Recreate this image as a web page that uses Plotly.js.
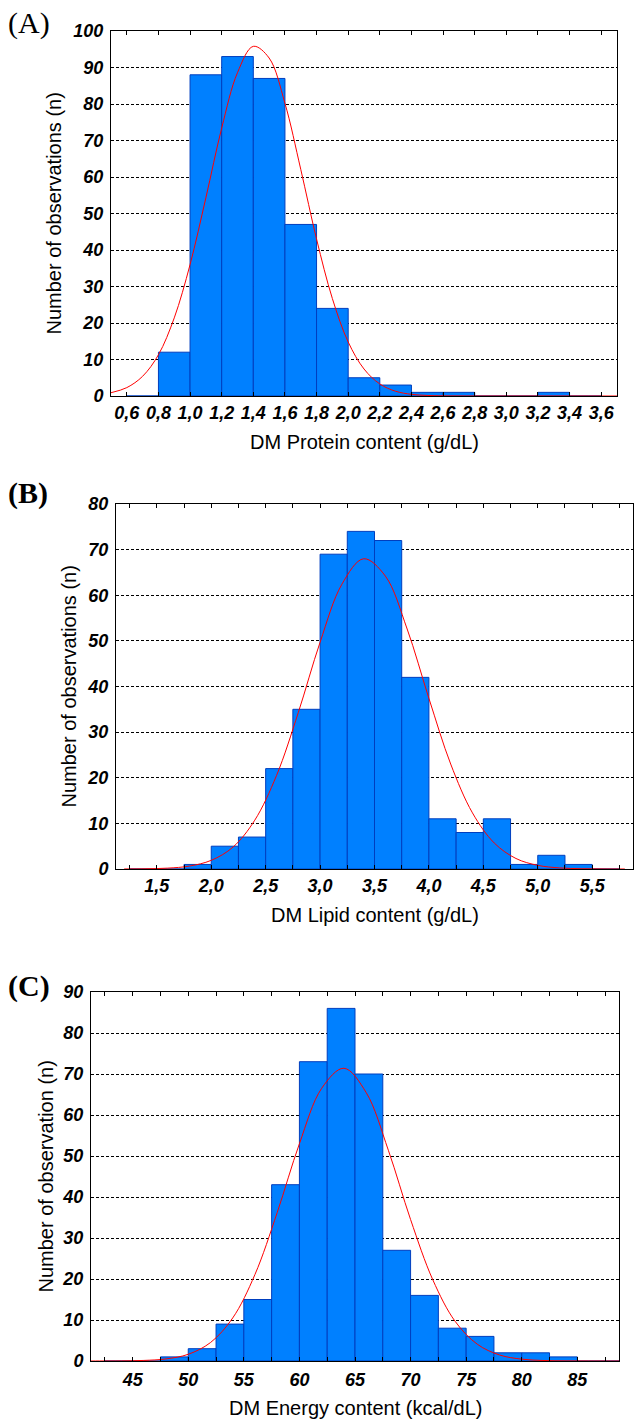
<!DOCTYPE html>
<html>
<head>
<meta charset="utf-8">
<script src="https://cdn.plot.ly/plotly-3.0.1.min.js"></script>
<style>html,body{margin:0;padding:0;background:#fff;}#chart{width:634px;height:1419px;}</style>
</head>
<body>
<div id="chart"></div>
<script>
// ---------- DATA ----------
// Panel A: DM Protein content (g/dL), bins of 0.2
const binStartA = [0.6, 0.8, 1.0, 1.2, 1.4, 1.6, 1.8, 2.0, 2.2, 2.4, 2.6, 2.8, 3.0, 3.2, 3.4];
const countsA   = [0, 12, 88, 93, 87, 47, 24, 5, 3, 1, 1, 0, 0, 1, 0];
const binWidthA = 0.2;
const tickValsA = [0.6, 0.8, 1.0, 1.2, 1.4, 1.6, 1.8, 2.0, 2.2, 2.4, 2.6, 2.8, 3.0, 3.2, 3.4, 3.6];
const tickTextA = ["0,6","0,8","1,0","1,2","1,4","1,6","1,8","2,0","2,2","2,4","2,6","2,8","3,0","3,2","3,4","3,6"];
const curveAx = [0.5, 0.6, 0.7, 0.8, 0.9, 1.0, 1.1, 1.2, 1.3, 1.4, 1.5, 1.6, 1.7, 1.8, 1.9, 2.0, 2.1, 2.2, 2.3, 2.4, 2.5, 2.6, 2.8, 3.0, 3.2, 3.4, 3.7];
const curveAy = [0.9, 2.3, 5.4, 11.3, 21.4, 36.0, 54.3, 73.4, 88.6, 95.8, 92.6, 80.2, 62.1, 43.0, 26.7, 14.8, 7.4, 3.3, 1.3, 0.46, 0.15, 0.04, 0, 0, 0, 0, 0];

// Panel B: DM Lipid content (g/dL), bins of 0.25
const binStartB = [1.25, 1.5, 1.75, 2.0, 2.25, 2.5, 2.75, 3.0, 3.25, 3.5, 3.75, 4.0, 4.25, 4.5, 4.75, 5.0, 5.25, 5.5];
const countsB   = [0, 0, 1, 5, 7, 22, 35, 69, 74, 72, 42, 11, 8, 11, 1, 3, 1, 0];
const binWidthB = 0.25;
const tickValsB = [1.25, 1.5, 1.75, 2.0, 2.25, 2.5, 2.75, 3.0, 3.25, 3.5, 3.75, 4.0, 4.25, 4.5, 4.75, 5.0, 5.25, 5.5, 5.75];
const tickTextB = ["","1,5","","2,0","","2,5","","3,0","","3,5","","4,0","","4,5","","5,0","","5,5",""];
const curveBx = [1.2, 1.4, 1.6, 1.8, 2.0, 2.2, 2.4, 2.6, 2.8, 3.0, 3.2, 3.4, 3.6, 3.8, 4.0, 4.2, 4.4, 4.6, 4.8, 5.0, 5.2, 5.4, 5.6, 5.8];
const curveBy = [0.01, 0.05, 0.19, 0.64, 1.9, 4.8, 10.7, 20.5, 34.3, 49.7, 62.4, 68.0, 64.2, 52.6, 37.4, 23.0, 12.3, 5.7, 2.3, 0.8, 0.24, 0.06, 0.01, 0];

// Panel C: DM Energy content (kcal/dL), bins of 2.5
const binStartC = [42.5, 45, 47.5, 50, 52.5, 55, 57.5, 60, 62.5, 65, 67.5, 70, 72.5, 75, 77.5, 80, 82.5, 85, 87.5];
const countsC   = [0, 0, 1, 3, 9, 15, 43, 73, 86, 70, 27, 16, 8, 6, 2, 2, 1, 0, 0];
const binWidthC = 2.5;
const tickValsC = [42.5, 45, 47.5, 50, 52.5, 55, 57.5, 60, 62.5, 65, 67.5, 70, 72.5, 75, 77.5, 80, 82.5, 85, 87.5];
const tickTextC = ["","45","","50","","55","","60","","65","","70","","75","","80","","85",""];
const curveCx = [41.25, 42, 44, 46, 48, 50, 52, 54, 56, 58, 60, 62, 64, 66, 68, 70, 72, 74, 76, 78, 80, 82, 84, 86, 88, 88.75];
const curveCy = [0, 0.01, 0.03, 0.14, 0.51, 1.64, 4.5, 10.5, 21.1, 36.2, 53.0, 66.5, 71.4, 65.5, 51.4, 34.5, 19.8, 9.7, 4.1, 1.47, 0.45, 0.12, 0.03, 0.01, 0, 0];

// ---------- LAYOUT ----------
const W = 634, H = 1419;
const px = x => x / W;
const py = y => 1 - y / H;

const panels = [
  {l:111, r:617, t:31,  b:396,  xr:[0.5, 3.7],     yr:[0,100], xs:"x",  ys:"y",  ax:"xaxis",  ay:"yaxis",  std:0},
  {l:116, r:633, t:504, b:869,  xr:[1.125, 5.875], yr:[0,80],  xs:"x2", ys:"y2", ax:"xaxis2", ay:"yaxis2", std:0},
  {l:91,  r:619, t:992, b:1361, xr:[41.25, 88.75], yr:[0,90],  xs:"x3", ys:"y3", ax:"xaxis3", ay:"yaxis3", std:2}
];
const tickSets = [[tickValsA, tickTextA], [tickValsB, tickTextB], [tickValsC, tickTextC]];

const tickFont = {family: "Liberation Sans, Arial, sans-serif", size: 18, weight: "bold", style: "italic", color: "#000"};
const barColor = "rgb(0,128,255)";
const barLine = "rgb(0,62,190)";

const data = [];
const bins = [[binStartA, countsA, binWidthA], [binStartB, countsB, binWidthB], [binStartC, countsC, binWidthC]];
const curves = [[curveAx, curveAy], [curveBx, curveBy], [curveCx, curveCy]];
panels.forEach((p, i) => {
  data.push({
    type: "bar", x: bins[i][0], y: bins[i][1], width: bins[i][2], offset: 0,
    xaxis: p.xs, yaxis: p.ys,
    marker: {color: barColor, line: {color: barLine, width: 1}},
    hoverinfo: "skip", showlegend: false
  });
  data.push({
    type: "scatter", mode: "lines", x: curves[i][0], y: curves[i][1],
    xaxis: p.xs, yaxis: p.ys,
    line: {color: "rgb(255,0,0)", width: 1, shape: "spline", smoothing: 1},
    hoverinfo: "skip", showlegend: false
  });
});

const layout = {
  width: W, height: H,
  margin: {l: 0, r: 0, t: 0, b: 0},
  paper_bgcolor: "#fff", plot_bgcolor: "#fff",
  bargap: 0, showlegend: false,
  annotations: []
};

panels.forEach((p, i) => {
  layout[p.ax] = {
    domain: [px(p.l), px(p.r)], range: p.xr, anchor: p.ys,
    tickmode: "array", tickvals: tickSets[i][0], ticktext: tickSets[i][1],
    ticks: "inside", ticklen: 4, tickwidth: 1, tickcolor: "#000",
    showline: true, linecolor: "#000", linewidth: 1, mirror: "ticks",
    showgrid: false, zeroline: false, tickfont: tickFont, ticklabelstandoff: p.std,
    fixedrange: true
  };
  layout[p.ay] = {
    domain: [py(p.b), py(p.t)], range: p.yr, anchor: p.xs,
    dtick: 10, tick0: 0, ticks: "",
    showline: true, linecolor: "#000", linewidth: 1, mirror: true,
    showgrid: true, gridcolor: "#000", gridwidth: 1, griddash: "3px,2px",
    zeroline: false, tickfont: tickFont, ticklabelstandoff: 3,
    fixedrange: true
  };
});

const titleFont = {family: "Liberation Sans, Arial, sans-serif", size: 20, color: "#000"};
const xTitles = ["DM Protein content (g/dL)", "DM Lipid content (g/dL)", "DM Energy content (kcal/dL)"];
const xTitleY = [442, 915, 1408];
const yTitles = ["Number of observations (n)", "Number of observations (n)", "Number of observation (n)"];
const yTitleX = [54, 68, 45];
const labels = ["(A)", "(B)", "(C)"];
const labelY = [23, 493, 986];
const labelBold = [false, true, true];

panels.forEach((p, i) => {
  layout.annotations.push({
    xref: "paper", yref: "paper", x: px((p.l + p.r) / 2), y: py(xTitleY[i]),
    xanchor: "center", yanchor: "middle", showarrow: false,
    text: xTitles[i], font: titleFont
  });
  layout.annotations.push({
    xref: "paper", yref: "paper", x: px(yTitleX[i]), y: py((p.t + p.b) / 2),
    xanchor: "center", yanchor: "middle", showarrow: false, textangle: -90,
    text: yTitles[i], font: titleFont
  });
  layout.annotations.push({
    xref: "paper", yref: "paper", x: px(6), y: py(labelY[i]),
    xanchor: "left", yanchor: "middle", showarrow: false,
    text: labels[i],
    font: {family: "Liberation Serif, Times New Roman, serif", size: 30, color: "#000", weight: labelBold[i] ? "bold" : "normal"}
  });
});

Plotly.newPlot("chart", data, layout, {staticPlot: true, displayModeBar: false});
</script>
</body>
</html>
